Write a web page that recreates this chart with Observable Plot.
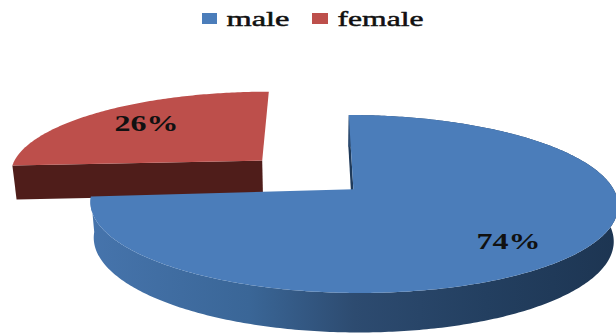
<!DOCTYPE html>
<html>
<head>
<meta charset="utf-8">
<script src="https://cdn.jsdelivr.net/npm/d3@7"></script>
<script src="https://cdn.jsdelivr.net/npm/@observablehq/plot@0.6"></script>
<style>
  html, body { margin: 0; padding: 0; background: #fff; }
  svg { display: block; }
</style>
</head>
<body>
<div id="chart"></div>
<script>
// Share of respondents by gender
const categories = ["male", "female"];
const shares = [74, 26];
const labels = ["74%", "26%"];

// Slice and wall colours
const faceColors = ["#4b7dba", "#bd4f4b"];
const cutWallColors = ["#1f3a5a", "#4f1d1a"];

// Camera model for the tilted disc: vanishing x, horizon y, ground offset,
// foreshortening, disc radius, thickness and the male apex offset.
const cam = {vx: 316, vy: -406, d: 596.5, k: 0.146, R: 261, thickD: 641, thickE: 0.1, ax: 37};

// Each slice is pulled out along its own direction from the disc centre.
const explode = [[0, 0], [-0.361, 0.369]];
// The male apex sits a touch deeper than the rim's centre.
const apexDepth = [0.02, 0];
// Label anchors on the disc plane
const labelAnchor = [[0.536, -0.535], [-0.876, 0.874]];

function project(X, Y, lower = false) {
  const s = 1 / (1 + cam.k * (Y + (lower ? cam.thickE : 0)));
  return {
    x: cam.vx + (cam.ax + cam.R * X) * s,
    y: cam.vy + (lower ? cam.thickD : cam.d) * s
  };
}

// Angular extent of every slice, clockwise from twelve o'clock
const total = d3.sum(shares);
let running = 0;
const slices = categories.map((name, i) => {
  const a0 = running / total * 2 * Math.PI;
  running += shares[i];
  return {name, i, a0, a1: running / total * 2 * Math.PI};
});

function rim(slice, lower) {
  const [ox, oy] = explode[slice.i];
  const n = Math.ceil((slice.a1 - slice.a0) / (Math.PI / 240));
  return d3.range(n + 1).map(j => {
    const a = slice.a0 + (slice.a1 - slice.a0) * j / n;
    return project(ox + Math.sin(a), oy + Math.cos(a), lower);
  });
}
const apex = (slice, lower) =>
  project(explode[slice.i][0], explode[slice.i][1] + apexDepth[slice.i], lower);

const [maleSlice, femaleSlice] = slices;
const ring = {x: "x", y: "y", stroke: null, curve: "linear-closed"};

function facePath(slice) { return [apex(slice, false), ...rim(slice, false)]; }
function sideWall(slice) { return [...rim(slice, false), ...rim(slice, true).reverse()]; }
function cutWall(slice, atEnd) {
  const topRim = rim(slice, false), lowRim = rim(slice, true);
  const t = atEnd ? topRim[topRim.length - 1] : topRim[0];
  const l = atEnd ? lowRim[lowRim.length - 1] : lowRim[0];
  return [apex(slice, false), t, l, apex(slice, true)];
}

// Legend row and its stretched serif lettering
const legend = {
  swatchX: [202, 312], swatchW: [15, 16], swatchY: 13, swatchH: 11,
  textX: [226, 337], textW: [63, 86], baseline: 25, size: 22
};

const labelPoints = labels.map((text, i) => ({text, width: 64, ...project(...labelAnchor[i])}));
const legendPoints = categories.map((text, i) => ({text, x: legend.textX[i], y: legend.baseline, width: legend.textW[i]}));

const plot = Plot.plot({
  width: 616,
  height: 335,
  margin: 0,
  x: {domain: [0, 616], range: [0, 616], axis: null},
  y: {domain: [0, 335], range: [0, 335], axis: null},
  style: {background: "#fff"},
  marks: [
    // Pulled-out female slice
    Plot.line(cutWall(femaleSlice, false), {...ring, fill: cutWallColors[1]}),
    Plot.line(facePath(femaleSlice), {...ring, fill: faceColors[1]}),
    // Male slice: inner wall, shaded rim, then the top face
    Plot.line(cutWall(maleSlice, false), {...ring, fill: cutWallColors[0]}),
    Plot.line(sideWall(maleSlice), {...ring, fill: "url(#rimShade)"}),
    Plot.line(facePath(maleSlice), {...ring, fill: faceColors[0]}),
    // Value labels
    Plot.text(labelPoints, {
      x: "x", y: "y", text: "text", fill: "#111",
      fontFamily: "Liberation Serif", fontWeight: "bold", fontSize: 24,
      className: "stretched"
    }),
    // Legend
    Plot.rect(categories, {
      x1: (d, i) => legend.swatchX[i],
      x2: (d, i) => legend.swatchX[i] + legend.swatchW[i],
      y1: legend.swatchY,
      y2: legend.swatchY + legend.swatchH,
      fill: (d, i) => faceColors[i]
    }),
    Plot.text(legendPoints, {
      x: "x", y: "y", text: "text", fill: "#111", textAnchor: "start", lineAnchor: "bottom",
      fontFamily: "Liberation Serif", fontSize: legend.size, stroke: "#111", strokeWidth: 0.5,
      className: "stretched"
    })
  ]
});

// Gradient for the curved edge of the male slice
const defs = d3.create("svg:defs");
const grad = defs.append("linearGradient").attr("id", "rimShade");
[[0, "#4674ac"], [0.3, "#3a6697"], [0.5, "#2d4b70"], [0.75, "#233f60"], [1, "#1d3552"]].forEach(([o, c]) =>
  grad.append("stop").attr("offset", o).attr("stop-color", c));
plot.insertBefore(defs.node(), plot.firstChild);

// The lettering is wide: stretch each glyph run to its measured width
const widths = new Map([...labelPoints, ...legendPoints].map(d => [d.text, d.width]));
d3.select(plot).selectAll(".stretched text").each(function () {
  const w = widths.get(this.textContent);
  if (w) {
    this.setAttribute("textLength", w);
    this.setAttribute("lengthAdjust", "spacingAndGlyphs");
  }
});

document.getElementById("chart").append(plot);
</script>
</body>
</html>
